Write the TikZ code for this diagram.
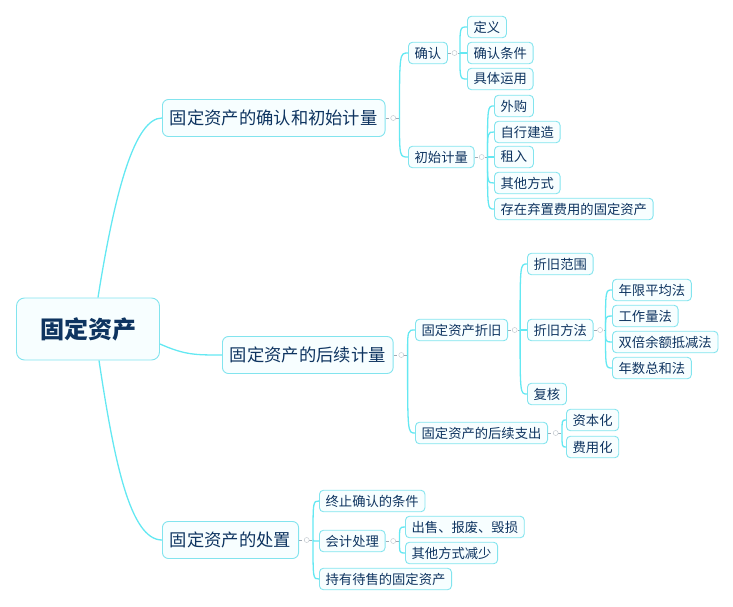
\documentclass[tikz,border=0pt]{standalone}
\usepackage{fontspec}
\setmainfont{Noto Sans CJK SC}
\newfontfamily\cjk{Noto Sans CJK SC}
\usetikzlibrary{calc}
\definecolor{lineC}{RGB}{100,232,242}
\definecolor{boxC}{RGB}{130,228,238}
\definecolor{fillC}{RGB}{247,254,255}
\definecolor{txtC}{RGB}{14,52,96}
\definecolor{stubC}{RGB}{160,170,180}
\tikzset{
  box/.style={draw=boxC, fill=fillC, line width=0.9pt, text=txtC, font=\cjk, inner sep=0pt, anchor=west},
  rootbox/.style={box, anchor=center, minimum width=143pt, minimum height=62pt, rounded corners=8pt, font=\cjk\bfseries\fontsize{24}{28}\selectfont},
  lone/.style={box, inner xsep=7.5pt, minimum height=37pt, rounded corners=6pt, font=\cjk\fontsize{17.3}{20}\selectfont},
  ltwo/.style={box, inner xsep=6.2pt, minimum height=21.5pt, rounded corners=4pt, font=\cjk\fontsize{13.3}{16}\selectfont},
  conn/.style={draw=lineC, line width=1.3pt},
  stub/.style={draw=stubC, line width=0.6pt, dash pattern=on 3pt off 2pt},
  knob/.style={circle, draw=stubC!60, fill=white, line width=0.5pt, inner sep=0pt, minimum size=5pt},
}
\newcommand\mmjunction[3]{% parent, junction name, offset
  \coordinate (#2) at ([xshift=#3pt]#1.east);
  \draw[stub] (#1.east) -- (#2);
  \node[knob] at ($(#1.east)!0.55!(#2)$) {};
}
\begin{document}
\begin{tikzpicture}[x=1pt,y=-1pt]
\useasboundingbox (0,0) rectangle (733,607);

% root
\node[rootbox] (root) at (88,329) {固定资产};

% level 1
\node[lone] (A) at (162,118) {固定资产的确认和初始计量};
\node[lone] (B) at (222,355) {固定资产的后续计量};
\node[lone] (C) at (162,540) {固定资产的处置};

% branch A
\node[ltwo] (A1) at (408,53) {确认};
\node[ltwo] (A2) at (408,157) {初始计量};
\node[ltwo] (A1a) at (467,27) {定义};
\node[ltwo] (A1b) at (467,53) {确认条件};
\node[ltwo] (A1c) at (467,79) {具体运用};
\node[ltwo] (A2a) at (494,106) {外购};
\node[ltwo] (A2b) at (494,132) {自行建造};
\node[ltwo] (A2c) at (494,157) {租入};
\node[ltwo] (A2d) at (494,183) {其他方式};
\node[ltwo] (A2e) at (494,209) {存在弃置费用的固定资产};

% branch B
\node[ltwo] (B1) at (415,330) {固定资产折旧};
\node[ltwo] (B2) at (415,433) {固定资产的后续支出};
\node[ltwo] (B1a) at (527,264) {折旧范围};
\node[ltwo] (B1b) at (527,330) {折旧方法};
\node[ltwo] (B1c) at (527,394) {复核};
\node[ltwo] (M1) at (612,290) {年限平均法};
\node[ltwo] (M2) at (612,316) {工作量法};
\node[ltwo] (M3) at (612,342) {双倍余额抵减法};
\node[ltwo] (M4) at (612,368) {年数总和法};
\node[ltwo] (B2a) at (566,420) {资本化};
\node[ltwo] (B2b) at (566,447) {费用化};

% branch C
\node[ltwo] (C1) at (319,501) {终止确认的条件};
\node[ltwo] (C2) at (319,541) {会计处理};
\node[ltwo] (C3) at (319,579) {持有待售的固定资产};
\node[ltwo] (C2a) at (405,527) {出售、报废、毁损};
\node[ltwo] (C2b) at (405,553) {其他方式减少};

% root connectors
\begin{scope}[on background layer/.style={}]
\end{scope}
\draw[conn] ([xshift=10pt]root.north) .. controls (115,190) and (135,118) .. (A.west);
\draw[conn] ([yshift=-15pt]root.east) .. controls (185,355) and (195,355) .. (B.west);
\draw[conn] ([xshift=11pt]root.south) .. controls (114,460) and (130,540) .. (C.west);

% junctions
\mmjunction{A}{jA}{14}
\mmjunction{A1}{jA1}{12}
\mmjunction{A2}{jA2}{13}
\mmjunction{B}{jB}{14}
\mmjunction{B1}{jB1}{12}
\mmjunction{B1b}{jB1b}{12}
\mmjunction{B2}{jB2}{14}
\mmjunction{C}{jC}{14}
\mmjunction{C2}{jC2}{14}

\foreach \j/\cs in {jA/{A1,A2}, jA1/{A1a,A1b,A1c}, jA2/{A2a,A2b,A2c,A2d,A2e},
                    jB/{B1,B2}, jB1/{B1a,B1b,B1c}, jB1b/{M1,M2,M3,M4}, jB2/{B2a,B2b},
                    jC/{C1,C2,C3}, jC2/{C2a,C2b}}{
  \foreach \c in \cs {
    \draw[conn] (\j) .. controls (\j |- \c.west) and (\j |- \c.west) .. (\c.west);
  }
}
\end{tikzpicture}
\end{document}
